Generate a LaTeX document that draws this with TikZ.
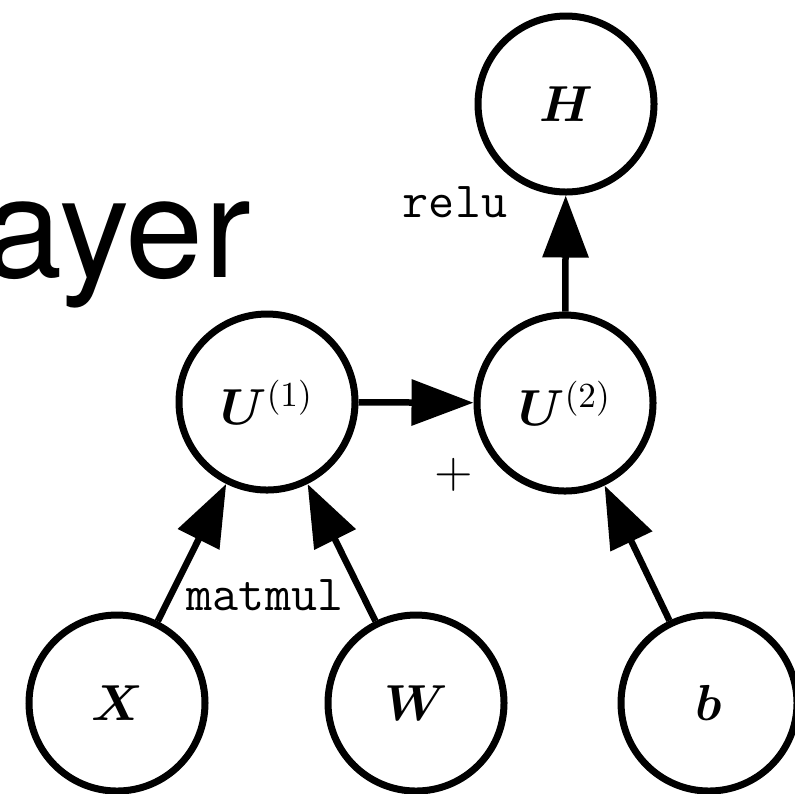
\documentclass[tikz,border=0pt]{standalone}
\usepackage{amsmath}
\usepackage{bm}
\usepackage{fontspec}
\newfontfamily\helv{TeX Gyre Heros}
\usetikzlibrary{arrows.meta}

\begin{document}
\begin{tikzpicture}[
  font=\Large,
  nut/.style={circle,draw,line width=0.07cm,minimum size=1.76cm,inner sep=0pt},
  mui/.style={line width=0.065cm,-{Triangle[length=0.62cm,width=0.45cm]}}
]
\useasboundingbox (0,0) rectangle (7.95,-7.93); % khung
\node[anchor=base west,font=\helv\fontsize{40}{48}\selectfont] (tieude) at (-0.28,-2.77) {ayer}; % chữ lớn
% các nút
\node[nut] (H) at (5.66,-1.04) {$\bm{H}$};
\node[nut] (U1) at (2.67,-4.02) {$\bm{U}^{(1)}$};
\node[nut] (U2) at (5.65,-4.03) {$\bm{U}^{(2)}$};
\node[nut] (X) at (1.17,-7.03) {$\bm{X}$};
\node[nut] (W) at (4.16,-7.03) {$\bm{W}$};
\node[nut] (b) at (7.09,-7.03) {$\bm{b}$};
% các mũi tên
\draw[mui] (U1) -- (U2);
\draw[mui] (U2) -- (H);
\draw[mui] (X) -- (U1);
\draw[mui] (W) -- (U1);
\draw[mui] (b) -- (U2);
% nhãn phép toán
\node[anchor=base] (relu) at (4.55,-2.17) {\texttt{relu}};
\node[anchor=base] (matmul) at (2.65,-6.10) {\texttt{matmul}};
\node (cong) at (4.54,-4.75) {$+$};
\end{tikzpicture}
\end{document}
